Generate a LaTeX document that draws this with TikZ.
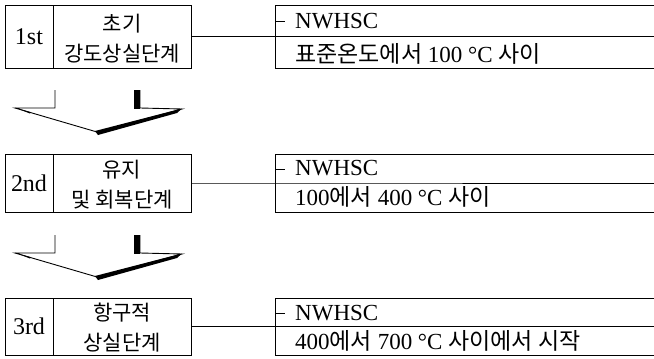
\documentclass[tikz,border=0pt]{standalone}
\usepackage{fontspec}
\setmainfont{Liberation Serif}
\newfontfamily\kr{Noto Sans CJK KR}
\begin{document}
\begin{tikzpicture}[x=1pt,y=-1pt,
  line/.style={line width=0.9pt},
  cell/.style={draw,line width=0.9pt,inner sep=0pt,minimum height=#1},
  numtxt/.style={font=\fontsize{24}{28}\selectfont},
  ttltxt/.style={align=center,font=\kr\fontsize{21}{30}\selectfont},
  rtxt/.style={anchor=base west,inner sep=0pt,font=\fontsize{23}{27}\selectfont},
  chev/.pic={
    \draw[line width=0.9pt,line join=miter]
      (55,90) -- (55,108) -- (15,108) -- (97,132) -- (182,109) -- (140,108) -- (140,90);
    \fill (134,90) rectangle (140,108.5);
    \fill (95,131) -- (182,108.5) -- (177,113) -- (98,135) -- cycle;
    \fill (15,107.5) -- (30,112) -- (30,113.5) -- cycle;
  }]
\useasboundingbox (0,0) rectangle (654,359);

% ---- stage 1 ----
\coordinate (r1) at (275,36.5);
\node[cell=63pt,minimum width=48pt,numtxt] (n1) at (29,36.5) {1st};
\node[cell=63pt,minimum width=138pt] (t1) at (122,36.5) {};
\node[ttltxt] (t1x) at (122,39) {초기\\강도상실단계};
\draw[line] (654,5) -- (275,5) -- (275,68) -- (654,68);
\draw[line] (t1.east) -- (r1) -- (654,36.5);
\draw[line] (275,21) -- (285,21);
\node[rtxt] (a1) at (295,28.5) {NWHSC};
\node[rtxt] (b1) at (295,62) {{\kr 표준온도에서} 100 °C {\kr 사이}};

\pic at (0,0) {chev};

% ---- stage 2 ----
\coordinate (r2) at (275,183);
\node[cell=58pt,minimum width=48pt,numtxt] (n2) at (29,183) {2nd};
\node[cell=58pt,minimum width=138pt] (t2) at (122,183) {};
\node[ttltxt] (t2x) at (122,184.5) {유지\\및 회복단계};
\draw[line] (654,154) -- (275,154) -- (275,212) -- (654,212);
\draw[line] (t2.east) -- (r2) -- (654,183);
\draw[line] (275,169) -- (285,169);
\node[rtxt] (a2) at (295,175.5) {NWHSC};
\node[rtxt] (b2) at (295,205) {100{\kr 에서} 400 °C {\kr 사이}};

\pic at (0,145) {chev};

% ---- stage 3 ----
\coordinate (r3) at (275,326.5);
\node[cell=57pt,minimum width=48pt,numtxt] (n3) at (29,326.5) {3rd};
\node[cell=57pt,minimum width=138pt] (t3) at (122,326.5) {};
\node[ttltxt] (t3x) at (122,328) {항구적\\상실단계};
\draw[line] (654,298) -- (275,298) -- (275,355) -- (654,355);
\draw[line] (t3.east) -- (r3) -- (654,326.5);
\draw[line] (275,313) -- (285,313);
\node[rtxt] (a3) at (295,320) {NWHSC};
\node[rtxt] (b3) at (295,349) {400{\kr 에서} 700 °C {\kr 사이에서 시작}};
\end{tikzpicture}
\end{document}
